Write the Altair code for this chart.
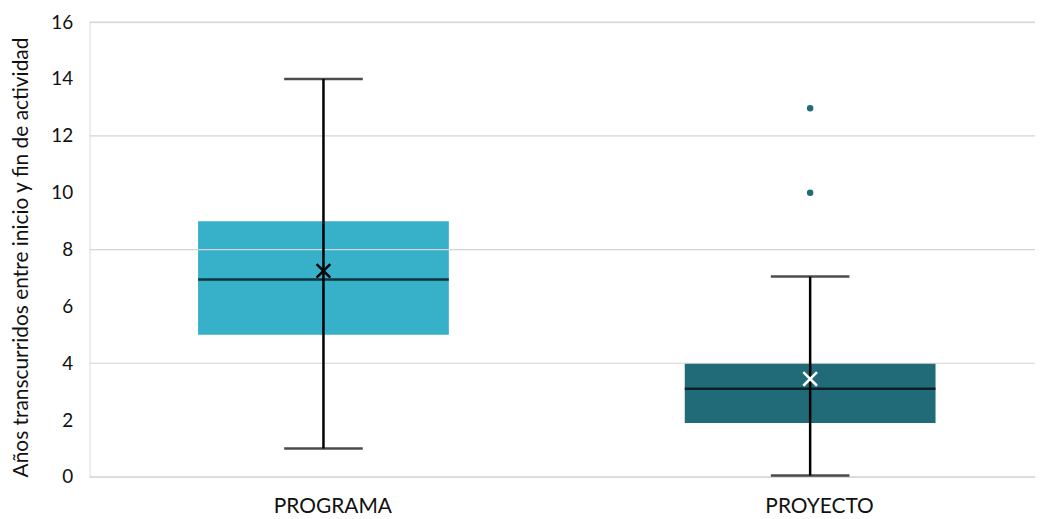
import altair as alt
import pandas as pd

categories = ["PROGRAMA", "PROYECTO"]
lower_whisker = [1.0, 0.05]
q1 = [5.0, 1.9]
median = [6.95, 3.1]
q3 = [9.0, 4.0]
upper_whisker = [14.0, 7.05]
mean = [7.25, 3.45]
outlier_cat = ["PROYECTO", "PROYECTO"]
outlier_val = [10.0, 12.97]
grid_values = [0, 4, 8, 12, 16]

pos = {c: i + 1 for i, c in enumerate(categories)}
box = pd.DataFrame({
    "cat": categories,
    "pos": [pos[c] for c in categories],
    "lo": lower_whisker, "q1": q1, "med": median, "q3": q3,
    "hi": upper_whisker, "mean": mean,
})
outl = pd.DataFrame({"cat": outlier_cat, "pos": [pos[c] for c in outlier_cat], "v": outlier_val})
grid = pd.DataFrame({"g": grid_values})

W, H = 950, 457
FONT = "Lato"

xscale = alt.Scale(domain=[0.5195, 2.462], nice=False, zero=False, padding=0)
yscale = alt.Scale(domain=[0, 16], nice=False, padding=0)

xenc = alt.X("pos:Q", scale=xscale, axis=alt.Axis(
    values=[1, 2], labelExpr="datum.value == 1 ? 'PROGRAMA' : 'PROYECTO'",
    title=None, grid=False, ticks=False, domain=False, labelPadding=19,
    labelFontSize=21, labelFont=FONT, labelColor="#111111", labelOffset=9))
yenc_axis = alt.Axis(values=[0, 2, 4, 6, 8, 10, 12, 14, 16], grid=False, ticks=False,
                     domain=False, labelPadding=17, labelFontSize=19, labelFont=FONT,
                     labelColor="#111111",
                     title="Años transcurridos entre inicio y fin de actividad",
                     titleFont=FONT, titleFontSize=21, titleFontWeight="normal",
                     titleColor="#111111", titlePadding=19, titleY=236)

bars = alt.Chart(box).mark_bar(size=252).encode(
    x=xenc,
    y=alt.Y("q1:Q", scale=yscale, axis=yenc_axis),
    y2="q3:Q",
    color=alt.Color("cat:N", scale=alt.Scale(domain=categories, range=["#37B0C9", "#216B78"]), legend=None),
)

gridlines = alt.Chart(grid).mark_rule(color="#d4d4d4", strokeWidth=1.2).encode(
    y=alt.Y("g:Q", scale=yscale), x=alt.value(0), x2=alt.value(W + 20))

whisk = alt.Chart(box).mark_rule(color="black", strokeWidth=2.5).encode(
    x=alt.X("pos:Q", scale=xscale), y=alt.Y("lo:Q", scale=yscale), y2="hi:Q")

cap_lo = alt.Chart(box).mark_tick(orient="horizontal", size=79, thickness=2.5, color="black").encode(
    x=alt.X("pos:Q", scale=xscale), y=alt.Y("lo:Q", scale=yscale))
cap_hi = alt.Chart(box).mark_tick(orient="horizontal", size=79, thickness=2.5, color="black").encode(
    x=alt.X("pos:Q", scale=xscale), y=alt.Y("hi:Q", scale=yscale))
med = alt.Chart(box).mark_tick(orient="horizontal", size=252, thickness=2.5, color="black").encode(
    x=alt.X("pos:Q", scale=xscale), y=alt.Y("med:Q", scale=yscale))

meanpt = alt.Chart(box).mark_point(shape="M-1,-1L1,1M1,-1L-1,1", size=190, strokeWidth=2.5, filled=False, opacity=1).encode(
    x=alt.X("pos:Q", scale=xscale), y=alt.Y("mean:Q", scale=yscale),
    color=alt.Color("cat:N", scale=alt.Scale(domain=categories, range=["#000000", "#ffffff"]), legend=None))

outpts = alt.Chart(outl).mark_circle(size=42, color="#216B78", opacity=1).encode(
    x=alt.X("pos:Q", scale=xscale), y=alt.Y("v:Q", scale=yscale))

chart = alt.layer(bars, gridlines, whisk, cap_lo, cap_hi, med, meanpt, outpts).resolve_scale(
    color="independent").properties(
    width=W, height=H,
    autosize=alt.AutoSizeParams(type="none"),
    padding={"left": 82, "top": 13, "right": 0, "bottom": 40},
).configure_view(stroke=None).configure(font=FONT)

chart.save("out.html", embed_options={"renderer": "svg", "actions": False})
